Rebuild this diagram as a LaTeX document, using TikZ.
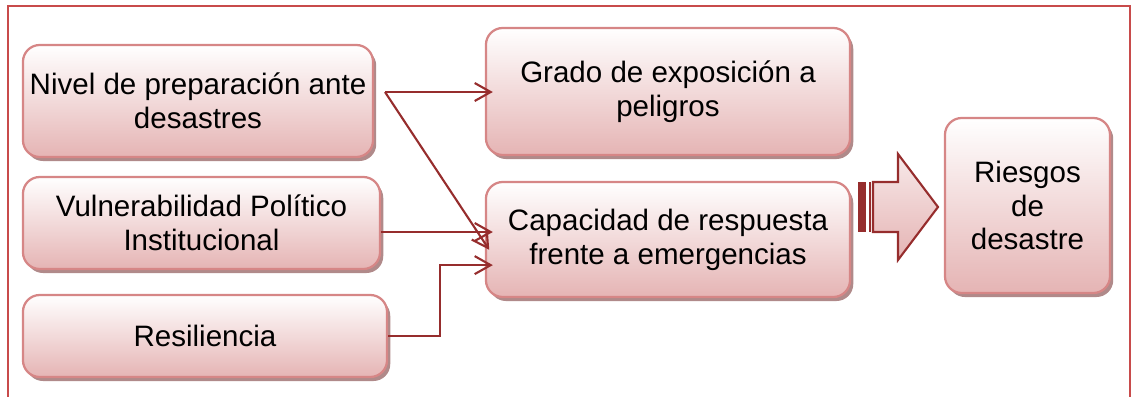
\documentclass[tikz,border=0pt]{standalone}
\usepackage{fontspec}
\setmainfont{Liberation Sans}
\usetikzlibrary{arrows.meta,shadows}
\definecolor{borde}{RGB}{214,134,134}
\definecolor{fondo}{RGB}{229,180,180}
\definecolor{sombra}{RGB}{176,138,138}
\definecolor{flecha}{RGB}{150,45,45}
\definecolor{marco}{RGB}{200,75,75}

\begin{document}
\begin{tikzpicture}[x=0.025cm, y=-0.025cm,
    caja/.style={draw=borde, line width=1.6pt, rounded corners=0.42cm,
      top color=white, bottom color=fondo, align=center, inner sep=0pt,
      font=\fontsize{21}{24}\selectfont,
      drop shadow={shadow xshift=0.08cm, shadow yshift=-0.1cm,
        fill=sombra, opacity=1}},
    enlace/.style={draw=flecha, line width=1.5pt, shorten >=-0.2cm,
      -{Straight Barb[length=0.4cm, width=0.45cm]}}]
  \useasboundingbox (0,0) rectangle (1133,396);

  % marco abierto por abajo
  \draw[marco, line width=1.6pt] (8,400) -- (8,6) -- (1130,6) -- (1130,400);

  % factores
  \node[caja, minimum width=8.75cm, minimum height=2.8cm] (nivel) at (198,101)
    {Nivel de preparación ante\\desastres};
  \node[caja, minimum width=8.925cm, minimum height=2.3cm] (vulner) at (201.5,223)
    {Vulnerabilidad Político\\Institucional};
  \node[caja, minimum width=9.1cm, minimum height=2.05cm] (resil) at (205,336)
    {Resiliencia};

  \node[caja, minimum width=9.1cm, minimum height=3.175cm] (grado) at (668,91.5)
    {Grado de exposición a\\peligros};
  \node[caja, minimum width=9.1cm, minimum height=2.875cm] (capac) at (668,239.5)
    {Capacidad de respuesta\\frente a emergencias};

  \node[caja, minimum width=4.125cm, minimum height=4.375cm] (riesgos) at (1027.5,205.5)
    {Riesgos\\de\\desastre};

  % conexiones
  \coordinate (salida) at (385,92);
  \coordinate (v1) at (381,232);
  \draw[enlace] (salida) -- (salida -| grado.west);
  \draw[enlace] (salida) -- ([yshift=-0.09cm]capac.west);
  \draw[enlace] (v1) -- (v1 -| capac.west);
  \draw[enlace] (resil.east) -- ++(52,0) |- ([yshift=-0.64cm]capac.west);

  % flecha gruesa
  \fill[flecha] (858,182) rectangle (866,232);
  \draw[flecha, line width=1.5pt] (870,182) -- (870,232);
  \draw[flecha, line width=1.5pt, top color=white!70!fondo, bottom color=fondo]
    (873,182) -- (898,182) -- (898,154) -- (938,207) -- (898,260)
    -- (898,232) -- (873,232) -- cycle;
\end{tikzpicture}
\end{document}
